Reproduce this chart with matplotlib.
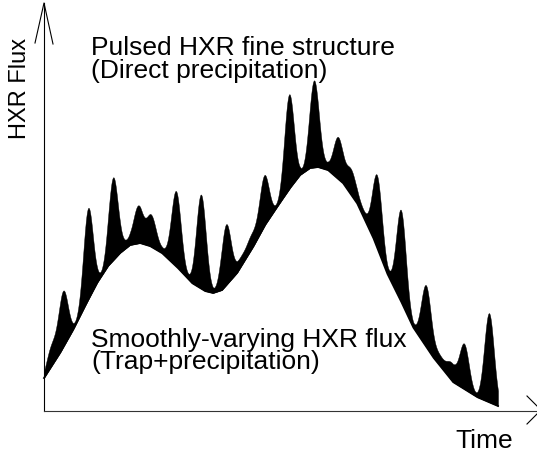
import numpy as np
import matplotlib
matplotlib.use('Agg')
import matplotlib.pyplot as plt

plt.rcParams['font.family'] = ['Liberation Sans', 'DejaVu Sans']

# smoothly-varying component (trap + precipitation)
base_time = [0, 16, 29, 41, 53, 64, 76, 86, 96, 106, 118, 133, 148, 161, 169, 178,
             193, 209, 221, 233, 246, 256, 266, 274, 284, 299, 313, 329, 343, 356,
             369, 389, 409, 433, 454]
base_flux = [33, 58, 81, 105, 128, 145, 158, 166, 168, 165, 158, 144, 128, 120, 118, 121,
             138, 164, 186, 204, 223, 236, 243, 244, 241, 228, 208, 174, 138, 112,
             84, 54, 29, 14, 5]

# pulsed fine structure: spike centre and height above the smooth curve
spike_time = [7, 19, 44, 69, 82, 94, 107, 118, 132, 157, 182, 196, 207, 220, 245,
              270, 282, 294, 307, 318, 333, 357, 382, 395, 407, 420, 445]
spike_height = [20, 56, 92, 83, 5, 37, 31, 3, 75, 94, 61, 9, 14, 51, 95,
                87, 3, 41, 24, 5, 72, 91, 61, 9, 16, 45, 89]
spike_width = 4.8

fig = plt.figure(figsize=(5.37, 4.58), dpi=100)
ax = fig.add_axes([0, 0, 1, 1])
ax.set_xlim(-44, 493)
ax.set_ylim(-47, 411)
ax.axis('off')

t = np.linspace(base_time[0], base_time[-1], 3000)
smooth = np.interp(t, base_time, base_flux)
pulses = np.zeros_like(t)
for tc, h in zip(spike_time, spike_height):
    pulses += h * np.exp(-0.5 * ((t - tc) / spike_width) ** 2)

ax.fill_between(t, smooth, smooth + pulses, color='black', lw=0.3)
ax.plot(t, smooth, color='black', lw=1.3)

# axes with open arrow heads
ax.plot([0, 0], [0, 408], color='black', lw=0.8)
ax.plot([-9, 0, 9], [368, 408, 367], color='black', lw=0.8)
ax.plot([0, 493], [0, 0], color='#333333', lw=0.8)
ax.plot([483, 497, 483], [15, 1, -13], color='black', lw=0.8, clip_on=False)

fs = 19
ax.text(47, 356, 'Pulsed HXR fine structure', fontsize=fs, va='baseline')
ax.text(47, 333, '(Direct precipitation)', fontsize=fs, va='baseline')
ax.text(47, 64, 'Smoothly-varying HXR flux', fontsize=fs, va='baseline')
ax.text(47, 42, '(Trap+precipitation)', fontsize=fs, va='baseline')
ax.text(440, -37, 'Time', fontsize=fs, ha='center', va='baseline')
ax.text(-24, 323, 'HXR Flux', fontsize=17, rotation=90, ha='center', va='center')

fig.savefig('out.png', dpi=100)
